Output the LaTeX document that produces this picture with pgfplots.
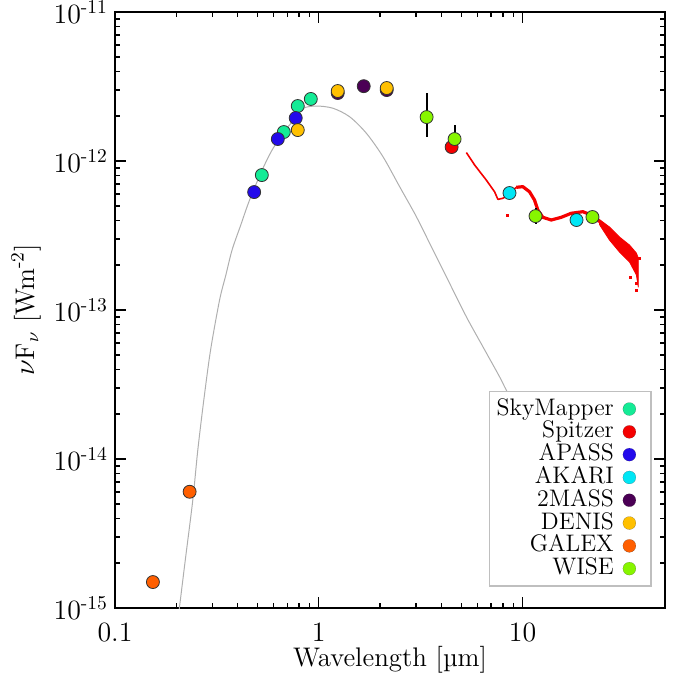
\documentclass[border=0pt]{standalone}
\usepackage{pgfplots}
\pgfplotsset{compat=1.18}
\definecolor{cSky}{RGB}{20,235,150}
\definecolor{cSpit}{RGB}{245,0,0}
\definecolor{cApass}{RGB}{35,10,235}
\definecolor{cAkari}{RGB}{0,230,245}
\definecolor{cTwom}{RGB}{75,0,85}
\definecolor{cDenis}{RGB}{255,192,0}
\definecolor{cGalex}{RGB}{255,95,0}
\definecolor{cWise}{RGB}{135,245,0}
\definecolor{cCurve}{RGB}{175,175,175}
\pgfplotsset{
  pt/.style={only marks, mark=*, mark size=3.25bp,
    mark options={fill=#1, draw=black!80, line width=0.4bp}},
}
\begin{document}
\begin{tikzpicture}
\begin{axis}[
  scale only axis, width=275bp, height=298bp,
  xmode=log, ymode=log,
  xmin=0.1, xmax=50, ymin=1e-15, ymax=1e-11,
  xtick={0.1,1,10}, xticklabels={0.1,1,10},
  ytick={1e-15,1e-14,1e-13,1e-12,1e-11},
  yticklabels={10\textsuperscript{-15},10\textsuperscript{-14},10\textsuperscript{-13},10\textsuperscript{-12},10\textsuperscript{-11}},
  tick align=inside,
  xtick pos=both, ytick pos=both,
  major tick length=5.5bp, minor tick length=2.5bp,
  every tick/.style={black, line width=0.7bp},
  every minor tick/.style={black, line width=0.7bp},
  axis line style={line width=0.8bp},
  tick label style={font=\fontsize{14}{14}\selectfont},
  xticklabel style={yshift=-4bp},
  xlabel={Wavelength [\textmu m]},
  ylabel={$\nu$F$_\nu$ [Wm\textsuperscript{-2}]},
  every axis x label/.style={at={(axis description cs:0.5,0)}, anchor=center, yshift=-26bp, font=\fontsize{13.5}{13.5}\selectfont},
  every axis y label/.style={at={(axis description cs:-0.162,0.5)}, anchor=center, rotate=90, font=\fontsize{13.5}{13.5}\selectfont},
  legend plot pos=right,
  legend cell align=right,
  legend image code/.code={\path (0bp,0bp) (14.5bp,0bp); \draw[#1, every mark/.append style={line width=0.01bp}] plot coordinates {(7bp,0bp)};},
  legend style={at={(1,0)}, anchor=south east, xshift=-6.7bp, yshift=10.7bp,
    draw=black!25, fill=white, line width=0.6bp, inner sep=3bp,
    font=\fontsize{12}{12}\selectfont,
    nodes={inner sep=0.5bp, text height=8.2bp, text depth=2.2bp}},
]
% model curve
\addplot[forget plot, cCurve, line width=0.5bp, smooth, tension=0.5] coordinates {
(0.1979,6.10e-16) (0.2066,9.80e-16) (0.2213,2.10e-15) (0.2409,5.31e-15)
(0.2549,1.149e-14) (0.2728,2.489e-14) (0.2945,5.39e-14) (0.3260,1.167e-13)
(0.3500,1.717e-13) (0.3754,2.528e-13) (0.4142,3.72e-13) (0.4574,5.47e-13)
(0.5274,8.70e-13) (0.5903,1.186e-12) (0.6737,1.565e-12) (0.7774,1.98e-12)
(0.8375,2.26e-12) (0.9743,2.34e-12)
(1.175,2.26e-12) (1.419,1.98e-12) (1.713,1.535e-12) (2.066,1.069e-12)
(2.495,6.72e-13) (3.013,4.23e-13) (3.634,2.53e-13) (4.387,1.51e-13)
(5.297,9.02e-14) (6.39,5.67e-14) (7.71,3.57e-14) (8.32,2.90e-14) (12.1,1.06e-14)
};
% Spitzer IRS spectrum
\addplot[forget plot, cSpit, line width=0.8bp, line join=round] coordinates {
(5.30,1.14e-12) (5.82,9.40e-13) (6.64,7.45e-13) (7.29,6.22e-13) (7.57,5.53e-13)
(8.00,5.62e-13) (8.47,5.91e-13) (9.31,6.66e-13)
};
\addplot[forget plot, cSpit, line width=1.6bp, line join=round] coordinates {
(9.31,6.66e-13) (10.03,6.73e-13) (10.82,6.22e-13) (11.45,5.47e-13) (11.89,4.69e-13)
(12.58,4.19e-13) (13.83,4.02e-13) (15.48,4.19e-13) (17.33,4.46e-13) (19.77,4.57e-13)
(21.73,4.34e-13) (23.84,3.92e-13)
};
\addplot[forget plot, cSpit, fill=cSpit, line width=0.4bp] coordinates {
(23.84,4.05e-13) (26.7,3.61e-13) (29.9,3.09e-13) (33.5,2.73e-13) (36.2,2.41e-13) (37.0,2.23e-13)
(37.0,1.42e-13) (36.2,1.72e-13) (33.5,2.10e-13) (29.9,2.45e-13) (26.7,2.95e-13) (23.84,3.75e-13)
} -- cycle;
\addplot[forget plot, only marks, mark=square*, mark size=0.5bp, cSpit] coordinates {
(8.47,4.34e-13) (33.8,1.66e-13) (36.0,1.51e-13) (36.3,1.35e-13) (37.5,2.22e-13)
};
% photometry
\addplot[pt=cSky] coordinates {(0.5255,8.05e-13) (0.6737,1.565e-12) (0.789,2.34e-12) (0.914,2.61e-12)};
\addlegendentry{SkyMapper}
\addplot[pt=cSpit] coordinates {(4.487,1.241e-12)};
\addlegendentry{Spitzer}
\addplot[pt=cApass] coordinates {(0.4818,6.19e-13) (0.6295,1.405e-12) (0.7709,1.944e-12)};
\addlegendentry{APASS}
\addplot[pt=cAkari] coordinates {(8.63,6.10e-13) (18.4,4.02e-13)};
\addlegendentry{AKARI}
\addplot[pt=cTwom] coordinates {(1.239,2.86e-12) (1.662,3.18e-12) (2.155,2.995e-12)};
\addlegendentry{2MASS}
\addplot[pt=cDenis] coordinates {(0.789,1.614e-12) (1.239,2.95e-12) (2.155,3.09e-12)};
\addlegendentry{DENIS}
\addplot[pt=cGalex] coordinates {(0.1535,1.494e-15) (0.2324,6.03e-15)};
\addlegendentry{GALEX}
\addplot[forget plot, draw=none, mark=none,
  error bars/.cd, y dir=both, y explicit, error mark=none,
  error bar style={draw=black, solid, line width=1bp}] coordinates {
(3.383,1.973e-12) += (0,0.89e-12) -= (0,0.52e-12)
(4.64,1.405e-12) += (0,0.33e-12) -= (0,0.19e-12)
(11.58,4.27e-13) += (0,0.59e-13) -= (0,0.5e-13)
};
\addplot[pt=cWise] coordinates {(3.383,1.973e-12) (4.64,1.405e-12) (11.58,4.27e-13) (22.03,4.21e-13)};
\addlegendentry{WISE}
\end{axis}
\pgfresetboundingbox
\path[use as bounding box] ([xshift=-57.5bp,yshift=-34bp]current axis.south west) rectangle ([xshift=5bp,yshift=6bp]current axis.north east);
\end{tikzpicture}
\end{document}
